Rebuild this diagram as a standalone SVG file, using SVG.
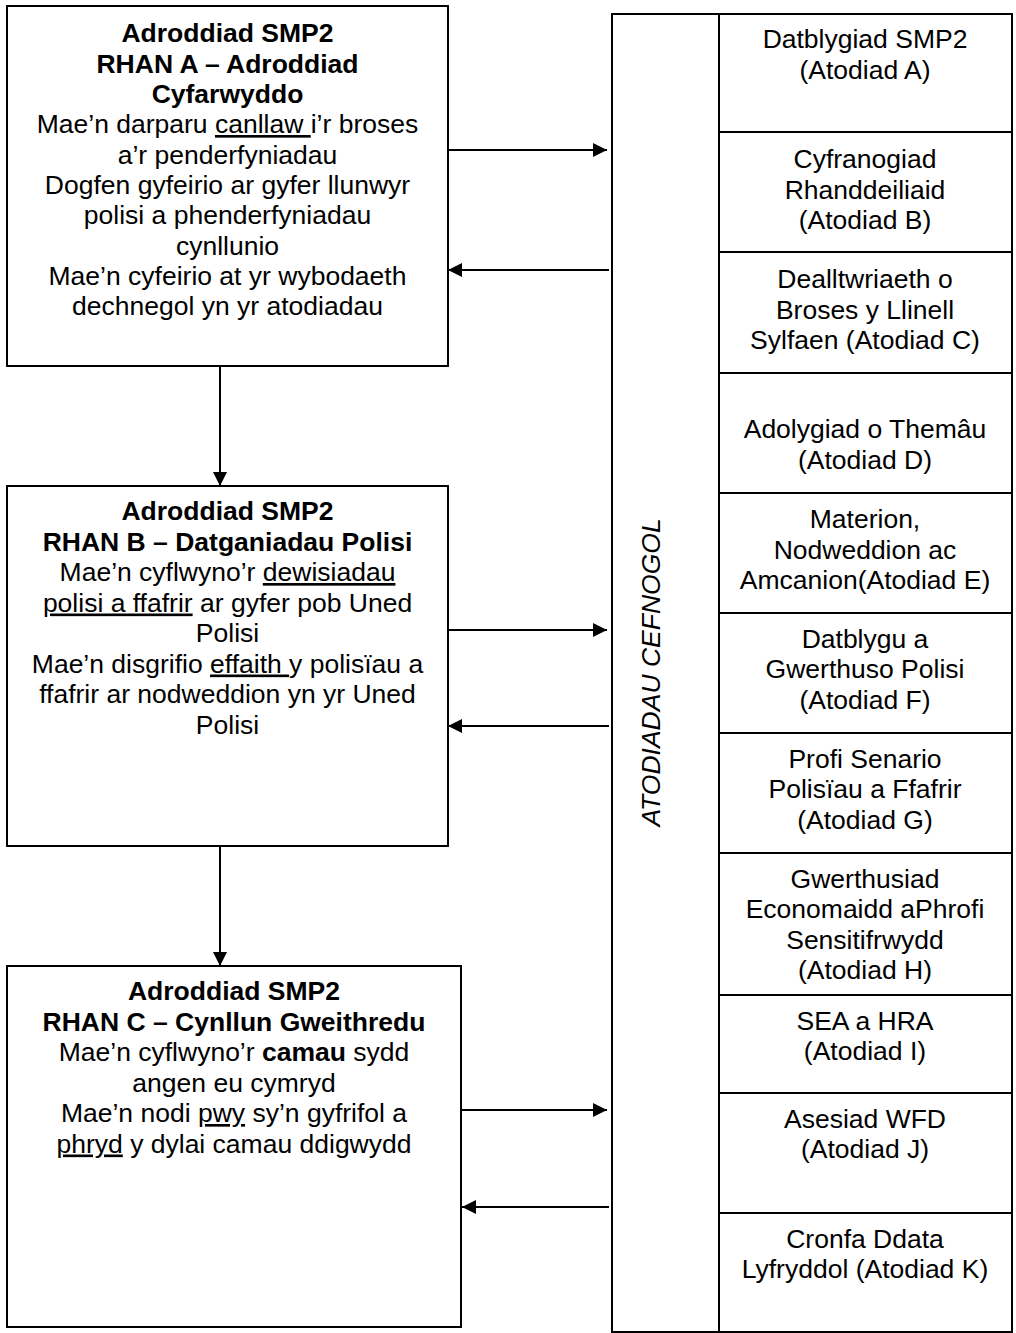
<svg xmlns="http://www.w3.org/2000/svg" width="1016" height="1333" viewBox="0 0 1016 1333">
<style>
  .box { fill: #fff; stroke: #000; stroke-width: 2; }
  .ln { stroke: #000; stroke-width: 2; fill: none; }
  text { font-family: "Liberation Sans", Arial, sans-serif; font-size: 26.5px; fill: #000; text-anchor: middle; }
  .b { font-weight: bold; }
  .u { text-decoration: underline; }
  .it { font-style: italic; }
</style>
<defs>
  <marker id="ah" markerWidth="14" markerHeight="14" refX="14" refY="7" orient="auto" markerUnits="userSpaceOnUse">
    <path d="M0,0 L14,7 L0,14 Z" fill="#000"/>
  </marker>
</defs>
<rect width="1016" height="1333" fill="#fff"/>

<g id="nodeA">
  <rect class="box" x="7" y="6" width="441" height="360"/>
  <text x="227.5" y="42" class="b">Adroddiad SMP2</text>
  <text x="227.5" y="72.5" class="b">RHAN A – Adroddiad</text>
  <text x="227.5" y="103" class="b">Cyfarwyddo</text>
  <text x="227.5" y="133">Mae’n darparu <tspan class="u">canllaw </tspan>i’r broses</text>
  <text x="227.5" y="163.5">a’r penderfyniadau</text>
  <text x="227.5" y="194">Dogfen gyfeirio ar gyfer llunwyr</text>
  <text x="227.5" y="224">polisi a phenderfyniadau</text>
  <text x="227.5" y="254.5">cynllunio</text>
  <text x="227.5" y="285">Mae’n cyfeirio at yr wybodaeth</text>
  <text x="227.5" y="315">dechnegol yn yr atodiadau</text>
</g>

<g id="nodeB">
  <rect class="box" x="7" y="486" width="441" height="360"/>
  <text x="227.5" y="520" class="b">Adroddiad SMP2</text>
  <text x="227.5" y="550.5" class="b">RHAN B – Datganiadau Polisi</text>
  <text x="227.5" y="581">Mae’n cyflwyno’r <tspan class="u">dewisiadau</tspan></text>
  <text x="227.5" y="611.5"><tspan class="u">polisi a ffafrir</tspan> ar gyfer pob Uned</text>
  <text x="227.5" y="642">Polisi</text>
  <text x="227.5" y="672.5">Mae’n disgrifio <tspan class="u">effaith </tspan>y polisïau a</text>
  <text x="227.5" y="703">ffafrir ar nodweddion yn yr Uned</text>
  <text x="227.5" y="733.5">Polisi</text>
</g>

<g id="nodeC">
  <rect class="box" x="7" y="966" width="454" height="361"/>
  <text x="234" y="1000" class="b">Adroddiad SMP2</text>
  <text x="234" y="1030.5" class="b">RHAN C – Cynllun Gweithredu</text>
  <text x="234" y="1061">Mae’n cyflwyno’r <tspan class="b">camau</tspan> sydd</text>
  <text x="234" y="1091.5">angen eu cymryd</text>
  <text x="234" y="1122">Mae’n nodi <tspan class="u">pwy</tspan> sy’n gyfrifol a</text>
  <text x="234" y="1152.5"><tspan class="u">phryd</tspan> y dylai camau ddigwydd</text>
</g>

<g id="appendices">
  <rect class="box" x="612" y="14" width="400" height="1318"/>
  <line class="ln" x1="719" y1="14" x2="719" y2="1332"/>
  <text class="it" transform="translate(660,672.5) rotate(-90)">ATODIADAU CEFNOGOL</text>
</g>

<g id="appA">
  <line class="ln" x1="719" y1="132" x2="1012" y2="132"/>
  <text x="865" y="48">Datblygiad SMP2</text>
  <text x="865" y="78.5">(Atodiad A)</text>
</g>
<g id="appB">
  <line class="ln" x1="719" y1="252" x2="1012" y2="252"/>
  <text x="865" y="168">Cyfranogiad</text>
  <text x="865" y="198.5">Rhanddeiliaid</text>
  <text x="865" y="229">(Atodiad B)</text>
</g>
<g id="appC">
  <line class="ln" x1="719" y1="373" x2="1012" y2="373"/>
  <text x="865" y="288">Dealltwriaeth o</text>
  <text x="865" y="318.5">Broses y Llinell</text>
  <text x="865" y="349">Sylfaen (Atodiad C)</text>
</g>
<g id="appD">
  <line class="ln" x1="719" y1="493" x2="1012" y2="493"/>
  <text x="865" y="438">Adolygiad o Themâu</text>
  <text x="865" y="468.5">(Atodiad D)</text>
</g>
<g id="appE">
  <line class="ln" x1="719" y1="613" x2="1012" y2="613"/>
  <text x="865" y="528">Materion,</text>
  <text x="865" y="558.5">Nodweddion ac</text>
  <text x="865" y="589">Amcanion(Atodiad E)</text>
</g>
<g id="appF">
  <line class="ln" x1="719" y1="733" x2="1012" y2="733"/>
  <text x="865" y="647.5">Datblygu a</text>
  <text x="865" y="678">Gwerthuso Polisi</text>
  <text x="865" y="708.5">(Atodiad F)</text>
</g>
<g id="appG">
  <line class="ln" x1="719" y1="853" x2="1012" y2="853"/>
  <text x="865" y="767.5">Profi Senario</text>
  <text x="865" y="798">Polisïau a Ffafrir</text>
  <text x="865" y="828.5">(Atodiad G)</text>
</g>
<g id="appH">
  <line class="ln" x1="719" y1="995" x2="1012" y2="995"/>
  <text x="865" y="887.5">Gwerthusiad</text>
  <text x="865" y="918">Economaidd aPhrofi</text>
  <text x="865" y="948.5">Sensitifrwydd</text>
  <text x="865" y="979">(Atodiad H)</text>
</g>
<g id="appI">
  <line class="ln" x1="719" y1="1093" x2="1012" y2="1093"/>
  <text x="865" y="1029.5">SEA a HRA</text>
  <text x="865" y="1060">(Atodiad I)</text>
</g>
<g id="appJ">
  <line class="ln" x1="719" y1="1213" x2="1012" y2="1213"/>
  <text x="865" y="1127.5">Asesiad WFD</text>
  <text x="865" y="1158">(Atodiad J)</text>
</g>
<g id="appK">
  <text x="865" y="1247.5">Cronfa Ddata</text>
  <text x="865" y="1278">Lyfryddol (Atodiad K)</text>
</g>

<g id="connectors">
  <line class="ln" x1="220" y1="366" x2="220" y2="486" marker-end="url(#ah)"/>
  <line class="ln" x1="220" y1="846" x2="220" y2="966" marker-end="url(#ah)"/>
  <line class="ln" x1="448" y1="150" x2="607" y2="150" marker-end="url(#ah)"/>
  <line class="ln" x1="609" y1="270" x2="448" y2="270" marker-end="url(#ah)"/>
  <line class="ln" x1="448" y1="630" x2="607" y2="630" marker-end="url(#ah)"/>
  <line class="ln" x1="609" y1="726" x2="448" y2="726" marker-end="url(#ah)"/>
  <line class="ln" x1="461" y1="1110" x2="607" y2="1110" marker-end="url(#ah)"/>
  <line class="ln" x1="609" y1="1207" x2="462" y2="1207" marker-end="url(#ah)"/>
</g>
</svg>
